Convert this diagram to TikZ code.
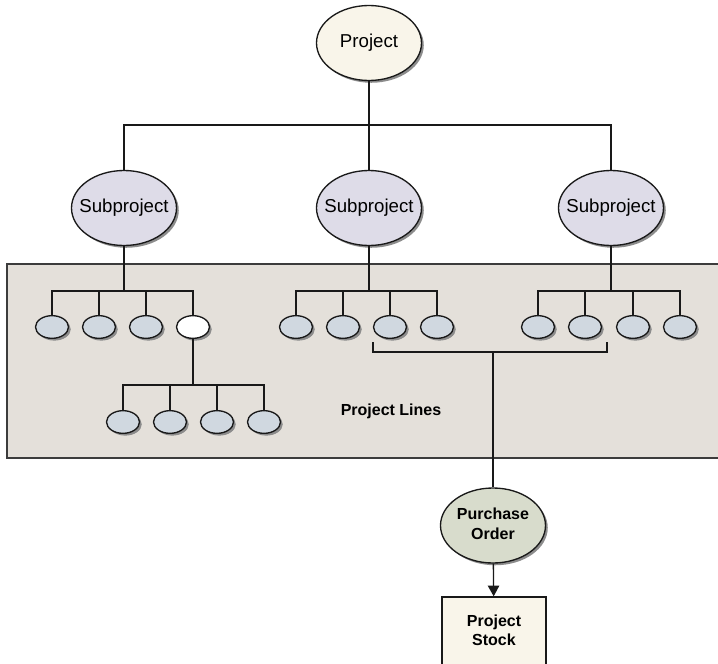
\documentclass[tikz,border=0pt]{standalone}
\usepackage{fontspec}
\setmainfont{Liberation Sans}
\usepackage{tikz}
\usetikzlibrary{arrows.meta,shapes.geometric,shadows}
\newcommand\Lbl[1]{\makebox[0pt]{#1}}
\newcommand\Two[2]{\Lbl{\begin{tabular}{@{}c@{}}#1\\#2\end{tabular}}}
\definecolor{line_gray}{RGB}{25,25,25}
\definecolor{edge_gray}{RGB}{60,60,60}
\definecolor{shadow_gray}{RGB}{140,140,140}
\definecolor{node_cream}{RGB}{249,245,234}
\definecolor{node_lilac}{RGB}{222,220,232}
\definecolor{node_blue}{RGB}{208,216,224}
\definecolor{node_olive}{RGB}{216,220,204}
\definecolor{area_gray}{RGB}{228,224,218}

\begin{document}
\begin{tikzpicture}[x=0.75pt,y=-0.75pt,line width=1pt,draw=line_gray]
    \tikzstyle{shade}=[drop shadow={shadow xshift=1.7pt,shadow yshift=-1.7pt,fill=shadow_gray,opacity=1}]
    \tikzstyle{big}=[draw=line_gray, ellipse, minimum width=78.75pt, minimum height=56.25pt, inner sep=0pt, style=shade, font=\fontsize{14}{17}\selectfont]
    \tikzstyle{proj}=[style=big, fill=node_cream]
    \tikzstyle{sub}=[style=big, fill=node_lilac]
    \tikzstyle{po}=[style=big, fill=node_olive, font=\fontsize{12}{14.5}\selectfont\bfseries]
    \tikzstyle{leaf}=[draw=line_gray, ellipse, minimum width=24.75pt, minimum height=17pt, inner sep=0pt, style=shade, fill=node_blue]
    \tikzstyle{open}=[style=leaf, fill=white]
    \tikzstyle{stock}=[draw=line_gray, rectangle, minimum width=78pt, minimum height=52.5pt, inner sep=0pt, fill=node_cream, font=\fontsize{12}{14.5}\selectfont\bfseries]
    \tikzstyle{lbl}=[font=\fontsize{12}{14.5}\selectfont\bfseries]
    \tikzstyle{hv}=[to path={-| (\tikztotarget)}]

    \useasboundingbox (0,0) rectangle (718,664);

    % project lines area
    \draw[draw=edge_gray, line width=1.2pt, fill=area_gray] (7,264) rectangle (730,458);
    \node[lbl] (pl) at (391,411) {Project Lines};

    \node[proj] (p)  at (369,43)  {\Lbl{Project}};
    \node[sub]  (s1) at (124,208) {\Lbl{Subproject}};
    \node[sub]  (s2) at (369,208) {\Lbl{Subproject}};
    \node[sub]  (s3) at (611,208) {\Lbl{Subproject}};

    \coordinate (cp) at (369,125);
    \coordinate (c1) at (124,291);
    \coordinate (c2) at (369,291);
    \coordinate (c3) at (611,291);
    \coordinate (c4) at (193,385);

    % first subproject
    \node[leaf] (a1) at (52,327)  {};
    \node[leaf] (a2) at (99,327)  {};
    \node[leaf] (a3) at (146,327) {};
    \node[open] (a4) at (193,327) {};
    \node[leaf] (d1) at (123,422) {};
    \node[leaf] (d2) at (170,422) {};
    \node[leaf] (d3) at (217,422) {};
    \node[leaf] (d4) at (264,422) {};
    % second subproject
    \node[leaf] (b1) at (296,327) {};
    \node[leaf] (b2) at (343,327) {};
    \node[leaf] (b3) at (390,327) {};
    \node[leaf] (b4) at (437,327) {};
    % third subproject
    \node[leaf] (e1) at (538,327) {};
    \node[leaf] (e2) at (585,327) {};
    \node[leaf] (e3) at (633,327) {};
    \node[leaf] (e4) at (680,327) {};

    \coordinate (bl) at (373,342);
    \coordinate (br) at (607,342);
    \coordinate (bm) at (493,352);

    \node[po]    (po) at (493,525.5) {\Two{Purchase}{Order}};
    \node[stock] (st) at (494,632)   {\Two{Project}{Stock}};

    \path[draw]
     (p)  edge (cp)
     (cp) edge[hv] (s1)
     (cp) edge (s2)
     (cp) edge[hv] (s3)
     (s1) edge (c1)
     (c1) edge[hv] (a1)  (c1) edge[hv] (a2)
     (c1) edge[hv] (a3)  (c1) edge[hv] (a4)
     (a4) edge (c4)
     (c4) edge[hv] (d1)  (c4) edge[hv] (d2)
     (c4) edge[hv] (d3)  (c4) edge[hv] (d4)
     (s2) edge (c2)
     (c2) edge[hv] (b1)  (c2) edge[hv] (b2)
     (c2) edge[hv] (b3)  (c2) edge[hv] (b4)
     (s3) edge (c3)
     (c3) edge[hv] (e1)  (c3) edge[hv] (e2)
     (c3) edge[hv] (e3)  (c3) edge[hv] (e4)
     (bm) edge[hv] (bl)
     (bm) edge[hv] (br)
     (bm) edge (po)
     (po) edge[-{Triangle[width=8.5pt,length=8pt]}] (st)
     ;
\end{tikzpicture}
\end{document}
